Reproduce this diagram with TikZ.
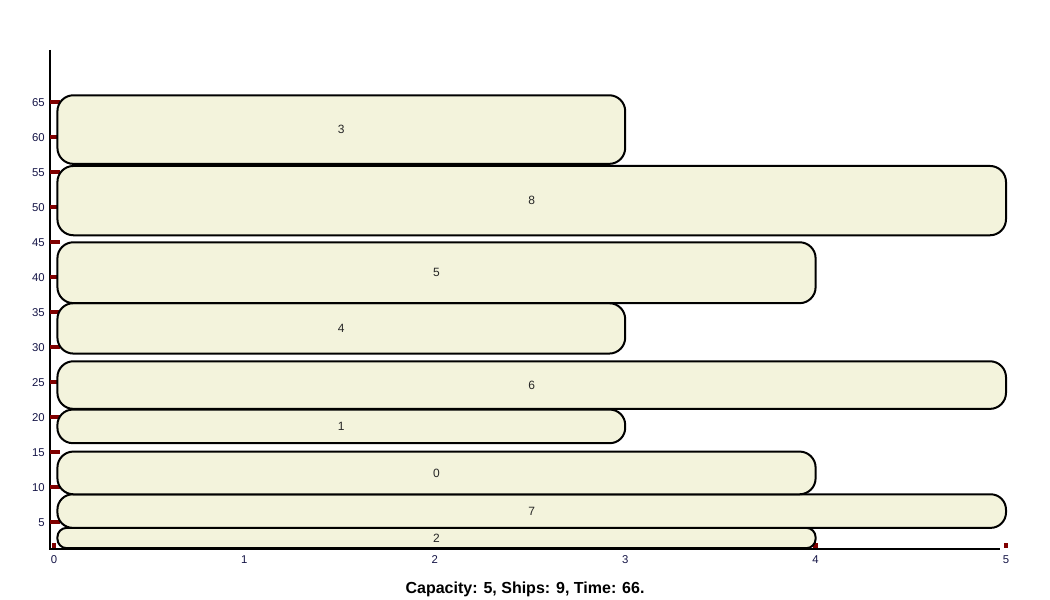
\documentclass[tikz,border=0pt]{standalone}
\usepackage{fontspec}
\setmainfont{Liberation Sans}
\usetikzlibrary{positioning}
\definecolor{shipfill}{RGB}{243,243,220}
\definecolor{tickred}{RGB}{128,0,0}
\definecolor{ticktext}{RGB}{20,20,70}

\begin{document}
\begin{tikzpicture}[x=142.8pt,y=5.25pt,
      axis/.style={draw=black,line width=1.5pt},
      ship/.style={draw=black,line width=1.5pt,fill=shipfill},
      tickmark/.style={fill=tickred},
      ticklabel/.style={font=\fontsize{8.5}{10}\selectfont,text=ticktext,inner sep=0pt},
      shiplabel/.style={font=\fontsize{9}{10}\selectfont,text=black!85,inner sep=0pt}]
      \useasboundingbox (-0.2836,-6.1) rectangle (5.2311,79.61);
      % axes
      \draw[axis] (-0.021,72.47) -- (-0.021,1.19) -- (4.968,1.19);
      % ticks on the time axis
      \foreach \v in {5,10,...,65} {
        \fill[tickmark] (-0.021,\v-0.3) rectangle ++(0.0525,0.6);
        \node[ticklabel, anchor=east] (y\v) at (-0.047,\v) {\v};
      }
      % ticks on the capacity axis
      \foreach \v in {0,...,5} {
        \fill[tickmark] (\v-0.013,1.3) rectangle ++(0.026,0.7);
        \node[ticklabel] (x\v) at (\v,-0.3) {\v};
      }
      % ships: id / start / end / width
      \foreach \id/\lo/\hi/\w in {2/1.3/4.2/4, 7/4.2/9.0/5, 0/9.0/15.1/4,
          1/16.3/21.1/3, 6/21.2/28.0/5, 4/29.1/36.3/3, 5/36.3/45.0/4,
          8/46.0/55.9/5, 3/56.2/66.0/3} {
        \draw[ship, rounded corners={min(12,(\hi-\lo)*2.4)*1pt}]
          (0.018,\lo) rectangle (\w,\hi);
        \node[shiplabel] (s\id) at ({(\w+0.018)/2},{(\lo+\hi)/2}) {\id};
      }
      \node[font=\bfseries\fontsize{12}{14}\selectfont] (title) at (2.474,-4.53)
        {Capacity: 5, Ships: 9, Time: 66.};
\end{tikzpicture}
\end{document}
